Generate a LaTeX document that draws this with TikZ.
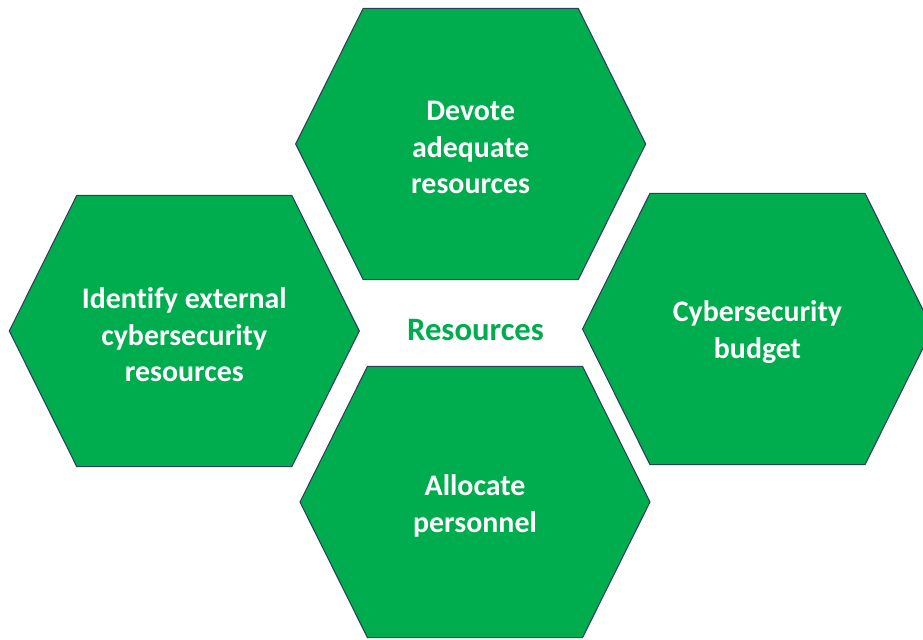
\documentclass[tikz,border=0pt]{standalone}
\usepackage{fontspec}
\setmainfont{Carlito}[Ligatures=CommonOff]
\usepackage{xcolor}
\usepackage{tikz}
\usetikzlibrary{calc}
\definecolor{cellgreen}{HTML}{00AD4E}
\definecolor{celledge}{HTML}{2E3D5C}

\begin{document}
\begin{tikzpicture}[x=0.02cm, y=-0.02cm,
    hexcell/.style={fill=cellgreen, draw=celledge, line width=0.6pt, line join=miter},
    celltext/.style={text=white, align=center, font=\fontsize{17}{20.8}\selectfont\bfseries, inner sep=0pt, yshift=-1.5pt},
    hubtext/.style={text=cellgreen, font=\fontsize{18.6}{22}\selectfont\bfseries, inner sep=0pt}]
  \useasboundingbox (0,0) rectangle (923,639);
  % centres of the four cells
  \coordinate (devote) at (470.7,145);
  \coordinate (identify) at (184.3,332);
  \coordinate (budget) at (757.5,329.5);
  \coordinate (allocate) at (475,503);
  \draw[hexcell] ($(devote)+(-175,-1)$) -- ++(67.5,-135.7) -- ++(215,0) -- ++(67.5,135.7) -- ++(-67.5,135.7) -- ++(-215,0) -- cycle;
  \draw[hexcell] ($(identify)+(-175,-1)$) -- ++(67.5,-135.7) -- ++(215,0) -- ++(67.5,135.7) -- ++(-67.5,135.7) -- ++(-215,0) -- cycle;
  \draw[hexcell] ($(budget)+(-175,-0.5)$) -- ++(67.5,-135.7) -- ++(215,0) -- ++(67.5,135.7) -- ++(-67.5,135.7) -- ++(-215,0) -- cycle;
  \draw[hexcell] ($(allocate)+(-175,-1)$) -- ++(67.5,-135.7) -- ++(215,0) -- ++(67.5,135.7) -- ++(-67.5,135.7) -- ++(-215,0) -- cycle;
  \node[celltext] (devotetext) at (devote) {Devote\\adequate\\resources};
  \node[celltext] (identifytext) at (identify) {Identify external\\cybersecurity\\resources};
  \node[celltext] (budgettext) at (budget) {Cybersecurity\\budget};
  \node[celltext] (allocatetext) at (allocate) {Allocate\\personnel};
  \node[hubtext] (hub) at (475.5,330) {Resources};
\end{tikzpicture}
\end{document}
